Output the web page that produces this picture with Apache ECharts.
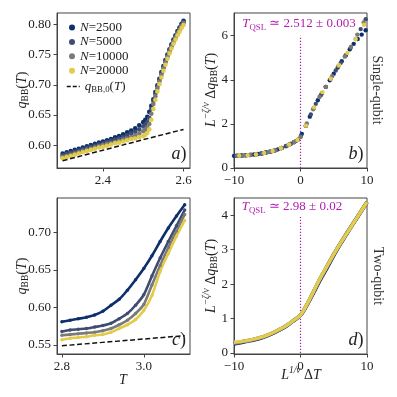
<!DOCTYPE html>
<html>
<head>
<meta charset="utf-8">
<script src="https://cdn.jsdelivr.net/npm/echarts@6/dist/echarts.min.js"></script>
<style>
  html, body { margin: 0; padding: 0; background: #fff; }
  #main { width: 397px; height: 397px; }
</style>
</head>
<body>
<div id="main"></div>
<script>
// ---- data ----
var seriesNames = ['N=2500', 'N=5000', 'N=10000', 'N=20000'];

// panel a) single-qubit q_BB(T)
var aT = [2.30, 2.31, 2.32, 2.33, 2.34, 2.35, 2.36, 2.37, 2.38, 2.39, 2.40, 2.41, 2.42, 2.43, 2.44, 2.45, 2.46, 2.47, 2.48, 2.49, 2.50,
          2.505, 2.51, 2.515, 2.52, 2.525, 2.53, 2.535, 2.54, 2.545, 2.55, 2.555, 2.56, 2.565, 2.57, 2.575, 2.58, 2.585, 2.59, 2.595, 2.60];
var aN2500 = [0.586, 0.588, 0.590, 0.592, 0.594, 0.596, 0.598, 0.600, 0.602, 0.604, 0.606, 0.608, 0.610, 0.613, 0.615, 0.618, 0.621, 0.624, 0.628, 0.633, 0.638,
              0.642, 0.647, 0.655, 0.665, 0.676, 0.688, 0.699, 0.710, 0.721, 0.731, 0.741, 0.750, 0.759, 0.767, 0.775, 0.782, 0.789, 0.795, 0.801, 0.806];
var aN5000 = [0.583, 0.585, 0.587, 0.589, 0.591, 0.593, 0.595, 0.597, 0.599, 0.601, 0.603, 0.605, 0.607, 0.609, 0.611, 0.613, 0.616, 0.619, 0.622, 0.626, 0.631,
              0.634, 0.638, 0.645, 0.660, 0.673, 0.685, 0.697, 0.708, 0.719, 0.729, 0.739, 0.748, 0.757, 0.765, 0.773, 0.780, 0.787, 0.793, 0.799, 0.804];
var aN10000 = [0.580, 0.582, 0.584, 0.586, 0.588, 0.590, 0.592, 0.594, 0.596, 0.598, 0.600, 0.602, 0.603, 0.605, 0.607, 0.609, 0.611, 0.613, 0.616, 0.619, 0.623,
               0.626, 0.629, 0.635, 0.652, 0.668, 0.681, 0.694, 0.705, 0.716, 0.727, 0.737, 0.746, 0.755, 0.763, 0.771, 0.778, 0.785, 0.791, 0.797, 0.802];
var aN20000 = [0.578, 0.580, 0.582, 0.584, 0.586, 0.588, 0.590, 0.592, 0.594, 0.596, 0.597, 0.599, 0.601, 0.603, 0.604, 0.606, 0.608, 0.610, 0.611, 0.613, 0.615,
               0.617, 0.620, 0.626, 0.642, 0.660, 0.675, 0.689, 0.701, 0.712, 0.723, 0.733, 0.743, 0.752, 0.760, 0.768, 0.775, 0.782, 0.788, 0.794, 0.799];
var aQ0T = [2.30, 2.40, 2.50, 2.60];
var aQ0 = [0.574, 0.5915, 0.609, 0.626];

// panel b) single-qubit scaling collapse
var bX2500 = [-10, -9.4, -8.8, -8.2, -7.6, -7, -6.4, -5.8, -5.2, -4.6, -4, -3.4, -2.8, -2.2, -1.6, -1, -0.4,
              0.2, 0.8, 1.4, 2, 2.6, 3.2, 3.8, 4.4, 5, 5.6, 6.2, 6.8, 7.4, 8, 8.6, 9.2, 9.8];
var bY2500 = [0.55, 0.56, 0.57, 0.58, 0.59, 0.61, 0.635, 0.66, 0.70, 0.74, 0.785, 0.845, 0.91, 0.99, 1.08, 1.17, 1.28,
              1.55, 1.92, 2.33, 2.72, 3.07, 3.38, 3.68, 3.98, 4.28, 4.56, 4.84, 5.11, 5.38, 5.63, 5.85, 6.05, 6.25];
var bX5000 = [-9.7, -8.95, -8.2, -7.45, -6.7, -5.95, -5.2, -4.45, -3.7, -2.95, -2.2, -1.45, -0.7,
              0.05, 0.8, 1.55, 2.3, 3.05, 3.8, 4.55, 5.3, 6.05, 6.8, 7.55, 8.3, 9.05, 9.8];
var bY5000 = [0.555, 0.565, 0.58, 0.60, 0.62, 0.655, 0.70, 0.75, 0.81, 0.895, 0.99, 1.10, 1.22,
              1.45, 1.92, 2.43, 2.91, 3.30, 3.68, 4.05, 4.42, 4.77, 5.11, 5.46, 5.85, 6.30, 6.75];
var bX10000 = [-9.5, -8.55, -7.6, -6.65, -5.7, -4.75, -3.8, -2.85, -1.9, -0.95, 0, 0.95, 1.9, 2.85, 3.8, 4.75, 5.7, 6.65, 7.6, 8.55, 9.5];
var bY10000 = [0.56, 0.57, 0.59, 0.625, 0.665, 0.73, 0.80, 0.91, 1.03, 1.18, 1.40, 2.02, 2.66, 3.22, 3.68, 4.16, 4.62, 5.05, 5.50, 6.05, 6.60];
var bX20000 = [-9.2, -7.95, -6.7, -5.45, -4.2, -2.95, -1.7, -0.45, 0.8, 2.05, 3.3, 4.55, 5.8, 7.05, 8.3, 9.55];
var bY20000 = [0.56, 0.58, 0.62, 0.685, 0.77, 0.895, 1.065, 1.27, 1.92, 2.75, 3.44, 4.05, 4.66, 5.22, 5.85, 6.50];
var bQslY = [0, 6.0];

// panel c) two-qubit q_BB(T)
var cT = [2.80, 2.82, 2.84, 2.86, 2.88, 2.90, 2.92, 2.94, 2.96, 2.98, 3.00, 3.02, 3.04, 3.06, 3.08, 3.10];
var cN2500 = [0.581, 0.583, 0.585, 0.587, 0.590, 0.595, 0.603, 0.611, 0.623, 0.637, 0.652, 0.669, 0.688, 0.706, 0.722, 0.737];
var cN5000 = [0.568, 0.570, 0.571, 0.572, 0.574, 0.576, 0.579, 0.585, 0.592, 0.603, 0.617, 0.642, 0.666, 0.688, 0.709, 0.730];
var cN10000 = [0.563, 0.564, 0.565, 0.566, 0.567, 0.569, 0.572, 0.577, 0.583, 0.592, 0.604, 0.630, 0.656, 0.680, 0.702, 0.724];
var cN20000 = [0.557, 0.559, 0.560, 0.561, 0.563, 0.564, 0.567, 0.572, 0.577, 0.584, 0.596, 0.616, 0.648, 0.672, 0.695, 0.716];
var cQ0T = [2.80, 2.90, 3.00, 3.10];
var cQ0 = [0.549, 0.5535, 0.558, 0.5625];

// panel d) two-qubit scaling collapse
var dX = [-10, -9, -8, -7, -6, -5, -4, -3, -2, -1, 0, 1, 2, 3, 4, 5, 6, 7, 8, 9, 10];
var dY2500 = [0.26, 0.30, 0.34, 0.38, 0.43, 0.50, 0.58, 0.68, 0.80, 0.94, 1.09, 1.40, 1.76, 2.13, 2.47, 2.83, 3.16, 3.47, 3.77, 4.07, 4.37];
var dY5000 = [0.28, 0.31, 0.35, 0.39, 0.44, 0.51, 0.59, 0.69, 0.80, 0.95, 1.10, 1.41, 1.79, 2.17, 2.51, 2.86, 3.18, 3.49, 3.79, 4.08, 4.38];
var dY10000 = [0.29, 0.32, 0.36, 0.40, 0.45, 0.52, 0.60, 0.70, 0.81, 0.95, 1.10, 1.42, 1.80, 2.18, 2.53, 2.87, 3.19, 3.49, 3.79, 4.09, 4.39];
var dY20000 = [0.31, 0.33, 0.36, 0.40, 0.45, 0.52, 0.60, 0.70, 0.81, 0.95, 1.10, 1.42, 1.80, 2.18, 2.52, 2.86, 3.18, 3.48, 3.78, 4.08, 4.38];
var dQslY = [0, 3.95];

// tick labels
var aXTicks = [2.4, 2.6];
var aYTicks = [0.60, 0.65, 0.70, 0.75, 0.80];
var bXTicks = [-10, 0, 10];
var bYTicks = [0, 2, 4, 6];
var cXTicks = [2.8, 3.0];
var cYTicks = [0.55, 0.60, 0.65, 0.70];
var dXTicks = [-10, 0, 10];
var dYTicks = [0, 1, 2, 3, 4];

// ---- styling ----
var FONT = 'Liberation Serif';
var colors = ['#0d2f6c', '#3f4d72', '#7a7a78', '#e3cb4b'];
var purple = '#b01cb0';
var ink = '#222';

function zip(xs, ys) {
  return xs.map(function (x, i) { return [x, ys[i]]; });
}
function minusFmt(v) { return v < 0 ? '\u2212' + Math.abs(v) : String(v); }

function makeAxis(idx, min, max, ticks, fmt) {
  return {
    type: 'value', gridIndex: idx, min: min, max: max,
    splitLine: { show: false },
    axisLine: { show: true, onZero: false, lineStyle: { color: '#444', width: 1 } },
    axisTick: { show: true, length: 3.5, customValues: ticks, lineStyle: { color: '#444' } },
    axisLabel: { customValues: ticks, formatter: fmt, color: ink, fontFamily: FONT, fontSize: 13, margin: 6 }
  };
}

function makeRich(col, size) {
  var s = size || 14;
  var sm = Math.round(s * 0.68 * 10) / 10;
  return {
    i: { fontFamily: FONT, fontStyle: 'italic', fontSize: s, fill: col, color: col },
    r: { fontFamily: FONT, fontSize: s, fill: col, color: col },
    sub: { fontFamily: FONT, fontSize: sm, padding: [Math.round(s / 2), 0, 0, 0], fill: col, color: col },
    sup: { fontFamily: FONT, fontStyle: 'italic', fontSize: sm, padding: [0, 0, Math.round(s * 0.65), 0], fill: col, color: col }
  };
}

var myChart = echarts.init(document.getElementById('main'), null, { renderer: 'canvas' });

var grids = [
  { left: 57, top: 13, width: 133, height: 155 },
  { left: 234, top: 13, width: 133, height: 155 },
  { left: 57, top: 198, width: 133, height: 156 },
  { left: 234, top: 198, width: 133, height: 156 }
].map(function (g) {
  return Object.assign(g, { show: true, borderColor: '#444', borderWidth: 1, backgroundColor: 'transparent' });
});

var f2 = function (v) { return v.toFixed(2); };
var f1 = function (v) { return v.toFixed(1); };

var xAxes = [
  makeAxis(0, 2.286, 2.616, aXTicks, f1),
  makeAxis(1, -10, 10, bXTicks, minusFmt),
  makeAxis(2, 2.788, 3.113, cXTicks, f1),
  makeAxis(3, -10, 10, dXTicks, minusFmt)
];
var yAxes = [
  makeAxis(0, 0.562, 0.819, aYTicks, f2),
  makeAxis(1, 0, 7.03, bYTicks, minusFmt),
  makeAxis(2, 0.538, 0.746, cYTicks, f2),
  makeAxis(3, -0.03, 4.5, dYTicks, minusFmt)
];

var series = [];
var aData = [aN2500, aN5000, aN10000, aN20000];
aData.forEach(function (ys, i) {
  series.push({
    name: seriesNames[i], type: 'scatter', xAxisIndex: 0, yAxisIndex: 0,
    data: zip(aT, ys), symbolSize: 4.6,
    itemStyle: { color: colors[i], opacity: 1 }
  });
});
series.push({
  name: 'q0', type: 'line', xAxisIndex: 0, yAxisIndex: 0,
  data: zip(aQ0T, aQ0), symbol: 'none',
  lineStyle: { color: '#111', width: 1.5, type: [5, 2.6] }, itemStyle: { color: '#111' }
});

var bXs = [bX2500, bX5000, bX10000, bX20000];
var bYs = [bY2500, bY5000, bY10000, bY20000];
bXs.forEach(function (xs, i) {
  series.push({
    name: seriesNames[i], type: 'scatter', xAxisIndex: 1, yAxisIndex: 1,
    data: zip(xs, bYs[i]), symbolSize: 4.4,
    itemStyle: { color: colors[i], opacity: 1 }
  });
});
series.push({
  type: 'line', xAxisIndex: 1, yAxisIndex: 1, data: zip([0, 0], bQslY), symbol: 'none',
  lineStyle: { color: purple, width: 1.2, type: [1.2, 1.8] }, z: 1
});

var cData = [cN2500, cN5000, cN10000, cN20000];
cData.forEach(function (ys, i) {
  series.push({
    name: seriesNames[i], type: 'line', xAxisIndex: 2, yAxisIndex: 2,
    data: zip(cT, ys), smooth: 0.25, symbol: 'circle', symbolSize: 3.4, showSymbol: true,
    lineStyle: { color: colors[i], width: 2.6 }, itemStyle: { color: colors[i] }
  });
});
series.push({
  type: 'line', xAxisIndex: 2, yAxisIndex: 2, data: zip(cQ0T, cQ0), symbol: 'none',
  lineStyle: { color: '#111', width: 1.5, type: [5, 2.6] }
});

series.push({
  type: 'line', xAxisIndex: 3, yAxisIndex: 3, data: zip([0, 0], dQslY), symbol: 'none',
  lineStyle: { color: purple, width: 1.2, type: [1.2, 1.8] }, z: 1
});
var dData = [dY2500, dY5000, dY10000, dY20000];
dData.forEach(function (ys, i) {
  series.push({
    name: seriesNames[i], type: 'line', xAxisIndex: 3, yAxisIndex: 3,
    data: zip(dX, ys), smooth: 0.3, symbol: 'none',
    lineStyle: { color: colors[i], width: i === 3 ? 3.4 : 3.6 }, z: 2
  });
});

function label(x, y, text, rot, col, size) {
  return {
    type: 'text', x: x, y: y, rotation: rot || 0,
    style: {
      text: text, align: 'center', verticalAlign: 'middle',
      fill: col || ink, font: (size || 14) + 'px "' + FONT + '"',
      rich: makeRich(col || ink, size || 14)
    }
  };
}
var yLabQ = '{i|q}{sub|BB}{r|(}{i|T}{r|)}';
var yLabL = '{i|L}{sup|\u2212\u03b6/\u03bd}{r| \u0394}{i|q}{sub|BB}{r|(}{i|T}{r|)}';

var graphics = [
  label(22, 90, yLabQ, Math.PI / 2),
  label(211, 90, yLabL, Math.PI / 2),
  label(22, 276, yLabQ, Math.PI / 2),
  label(211, 276, yLabL, Math.PI / 2),
  label(123, 380, '{i|T}'),
  label(301, 375, '{i|L}{sup|1/\u03bd}{r| \u0394}{i|T}'),
  label(377, 90, '{r|Single-qubit}', -Math.PI / 2, '#333'),
  label(378, 276, '{r|Two-qubit}', -Math.PI / 2, '#333'),
  label(299, 24, '{i|T}{sub|QSL}{r| \u2243 2.512 \u00b1 0.003}', 0, purple, 13),
  label(292, 207, '{i|T}{sub|QSL}{r| \u2243 2.98 \u00b1 0.02}', 0, purple, 13)
];
['a)', 'b)', 'c)', 'd)'].forEach(function (t, i) {
  var gx = [179, 356, 179, 356][i];
  var gy = [154, 154, 340, 340][i];
  graphics.push({
    type: 'text', x: gx, y: gy,
    style: {
      text: '{i|' + t.charAt(0) + '}{r|)}', align: 'center', verticalAlign: 'middle',
      rich: {
        i: { fontFamily: FONT, fontStyle: 'italic', fontSize: 18, fill: ink },
        r: { fontFamily: FONT, fontSize: 18, fill: ink }
      }
    }
  });
});

var legendRich = makeRich(ink, 13);
var option = {
  animation: false,
  backgroundColor: '#fff',
  grid: grids,
  xAxis: xAxes,
  yAxis: yAxes,
  legend: [
    {
      data: seriesNames, orient: 'vertical', left: 64, top: 16,
      icon: 'circle', itemWidth: 6, itemHeight: 6, itemGap: 1.4,
      formatter: function (n) { return '{i|N}{r|' + n.slice(1) + '}'; },
      textStyle: { rich: legendRich }
    },
    {
      data: ['q0'], left: 61, top: 75, itemWidth: 13, itemHeight: 8,
      itemStyle: { opacity: 0 },
      lineStyle: { type: [4, 2], width: 1.5, color: '#111' },
      formatter: function () { return '{i|q}{sub|BB,0}{r|(}{i|T}{r|)}'; },
      textStyle: { rich: legendRich }
    }
  ],
  series: series,
  graphic: graphics
};

myChart.setOption(option);
</script>
</body>
</html>
